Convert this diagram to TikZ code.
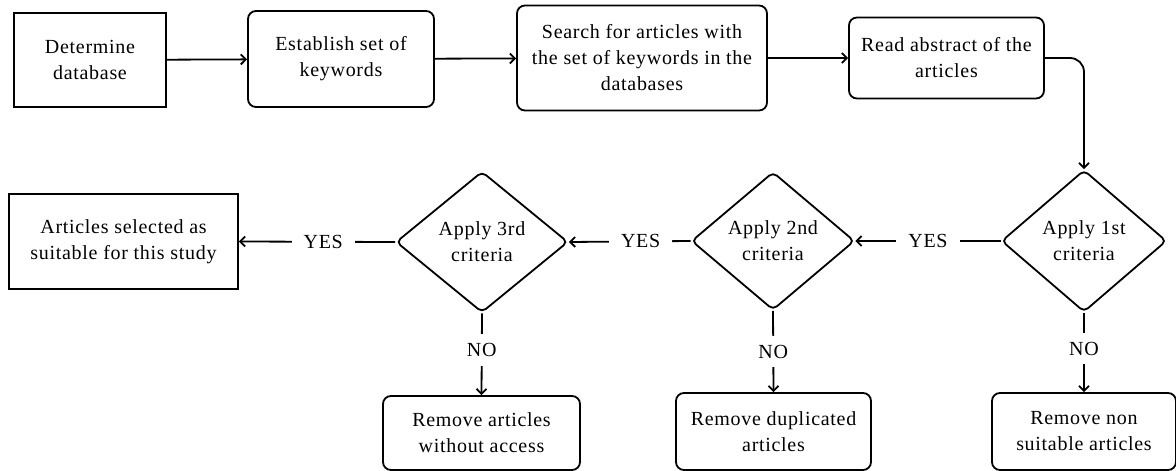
\documentclass[tikz,border=0pt]{standalone}
\usepackage{fontspec}
\setmainfont{Liberation Serif}[LetterSpace=3.5]
\usetikzlibrary{arrows.meta,shapes.geometric}

\begin{document}
\begin{tikzpicture}[x=1pt,y=-1pt,line width=1.8pt,>={Straight Barb[length=5pt,width=10pt]},font=\fontsize{20}{26}\selectfont]

\useasboundingbox (0,0) rectangle (1176,471);

\begin{scope}[every node/.style={draw,rectangle,align=center,inner sep=0pt}]
\node[minimum width=152,minimum height=94] (db) at (90,60) {Determine\\database};
\node[minimum width=229,minimum height=95] (sel) at (123.5,241.5) {Articles selected as\\suitable for this study};
\end{scope}

\begin{scope}[every node/.style={draw,rectangle,rounded corners=8pt,align=center,inner sep=0pt}]
\node[minimum width=186,minimum height=96] (kw) at (341,59) {Establish set of\\keywords};
\node[minimum width=250,minimum height=105] (search) at (642,58) {Search for articles with\\the set of keywords in the\\databases};
\node[minimum width=195,minimum height=81] (read) at (946.5,58) {Read abstract of the\\articles};
\node[minimum width=184,minimum height=77] (rm1) at (1084,431.5) {Remove non\\suitable articles};
\node[minimum width=195,minimum height=77] (rm2) at (773.5,431.5) {Remove duplicated\\articles};
\node[minimum width=197,minimum height=74] (rm3) at (481.5,433) {Remove articles\\without access};
\end{scope}

\begin{scope}[every node/.style={draw,diamond,aspect=1.16,rounded corners=5pt,align=center,inner sep=0pt}]
\node[minimum width=165,minimum height=142] (crit1) at (1084,241) {Apply 1st\\criteria};
\node[minimum width=163,minimum height=138] (crit2) at (773,241) {Apply 2nd\\criteria};
\node[minimum width=172,minimum height=141] (crit3) at (482,242) {Apply 3rd\\criteria};
\end{scope}

\draw[->] (db) -- (kw);
\draw[->] (kw) -- (search);
\draw[->] (search) -- (read);
\draw[->,rounded corners=14pt] (read.east) -| (crit1.north);

\begin{scope}[every node/.style={fill=white,inner xsep=12pt,inner ysep=9pt}]
  \draw[->] (crit1.west) to node[midway] {YES} (crit2.east);
  \draw[->] (crit2.west) to node[pos=0.41] {YES} (crit3.east);
  \draw[->] (crit3.west) to node[pos=0.46] {YES} (sel.east);
  \draw[->] (crit1.south) to node[pos=0.45] {NO} (rm1.north);
  \draw[->] (crit2.south) to node[pos=0.5] {NO} (rm2.north);
  \draw[->] (crit3.south) to node[pos=0.45] {NO} (rm3.north);
\end{scope}

\end{tikzpicture}
\end{document}
